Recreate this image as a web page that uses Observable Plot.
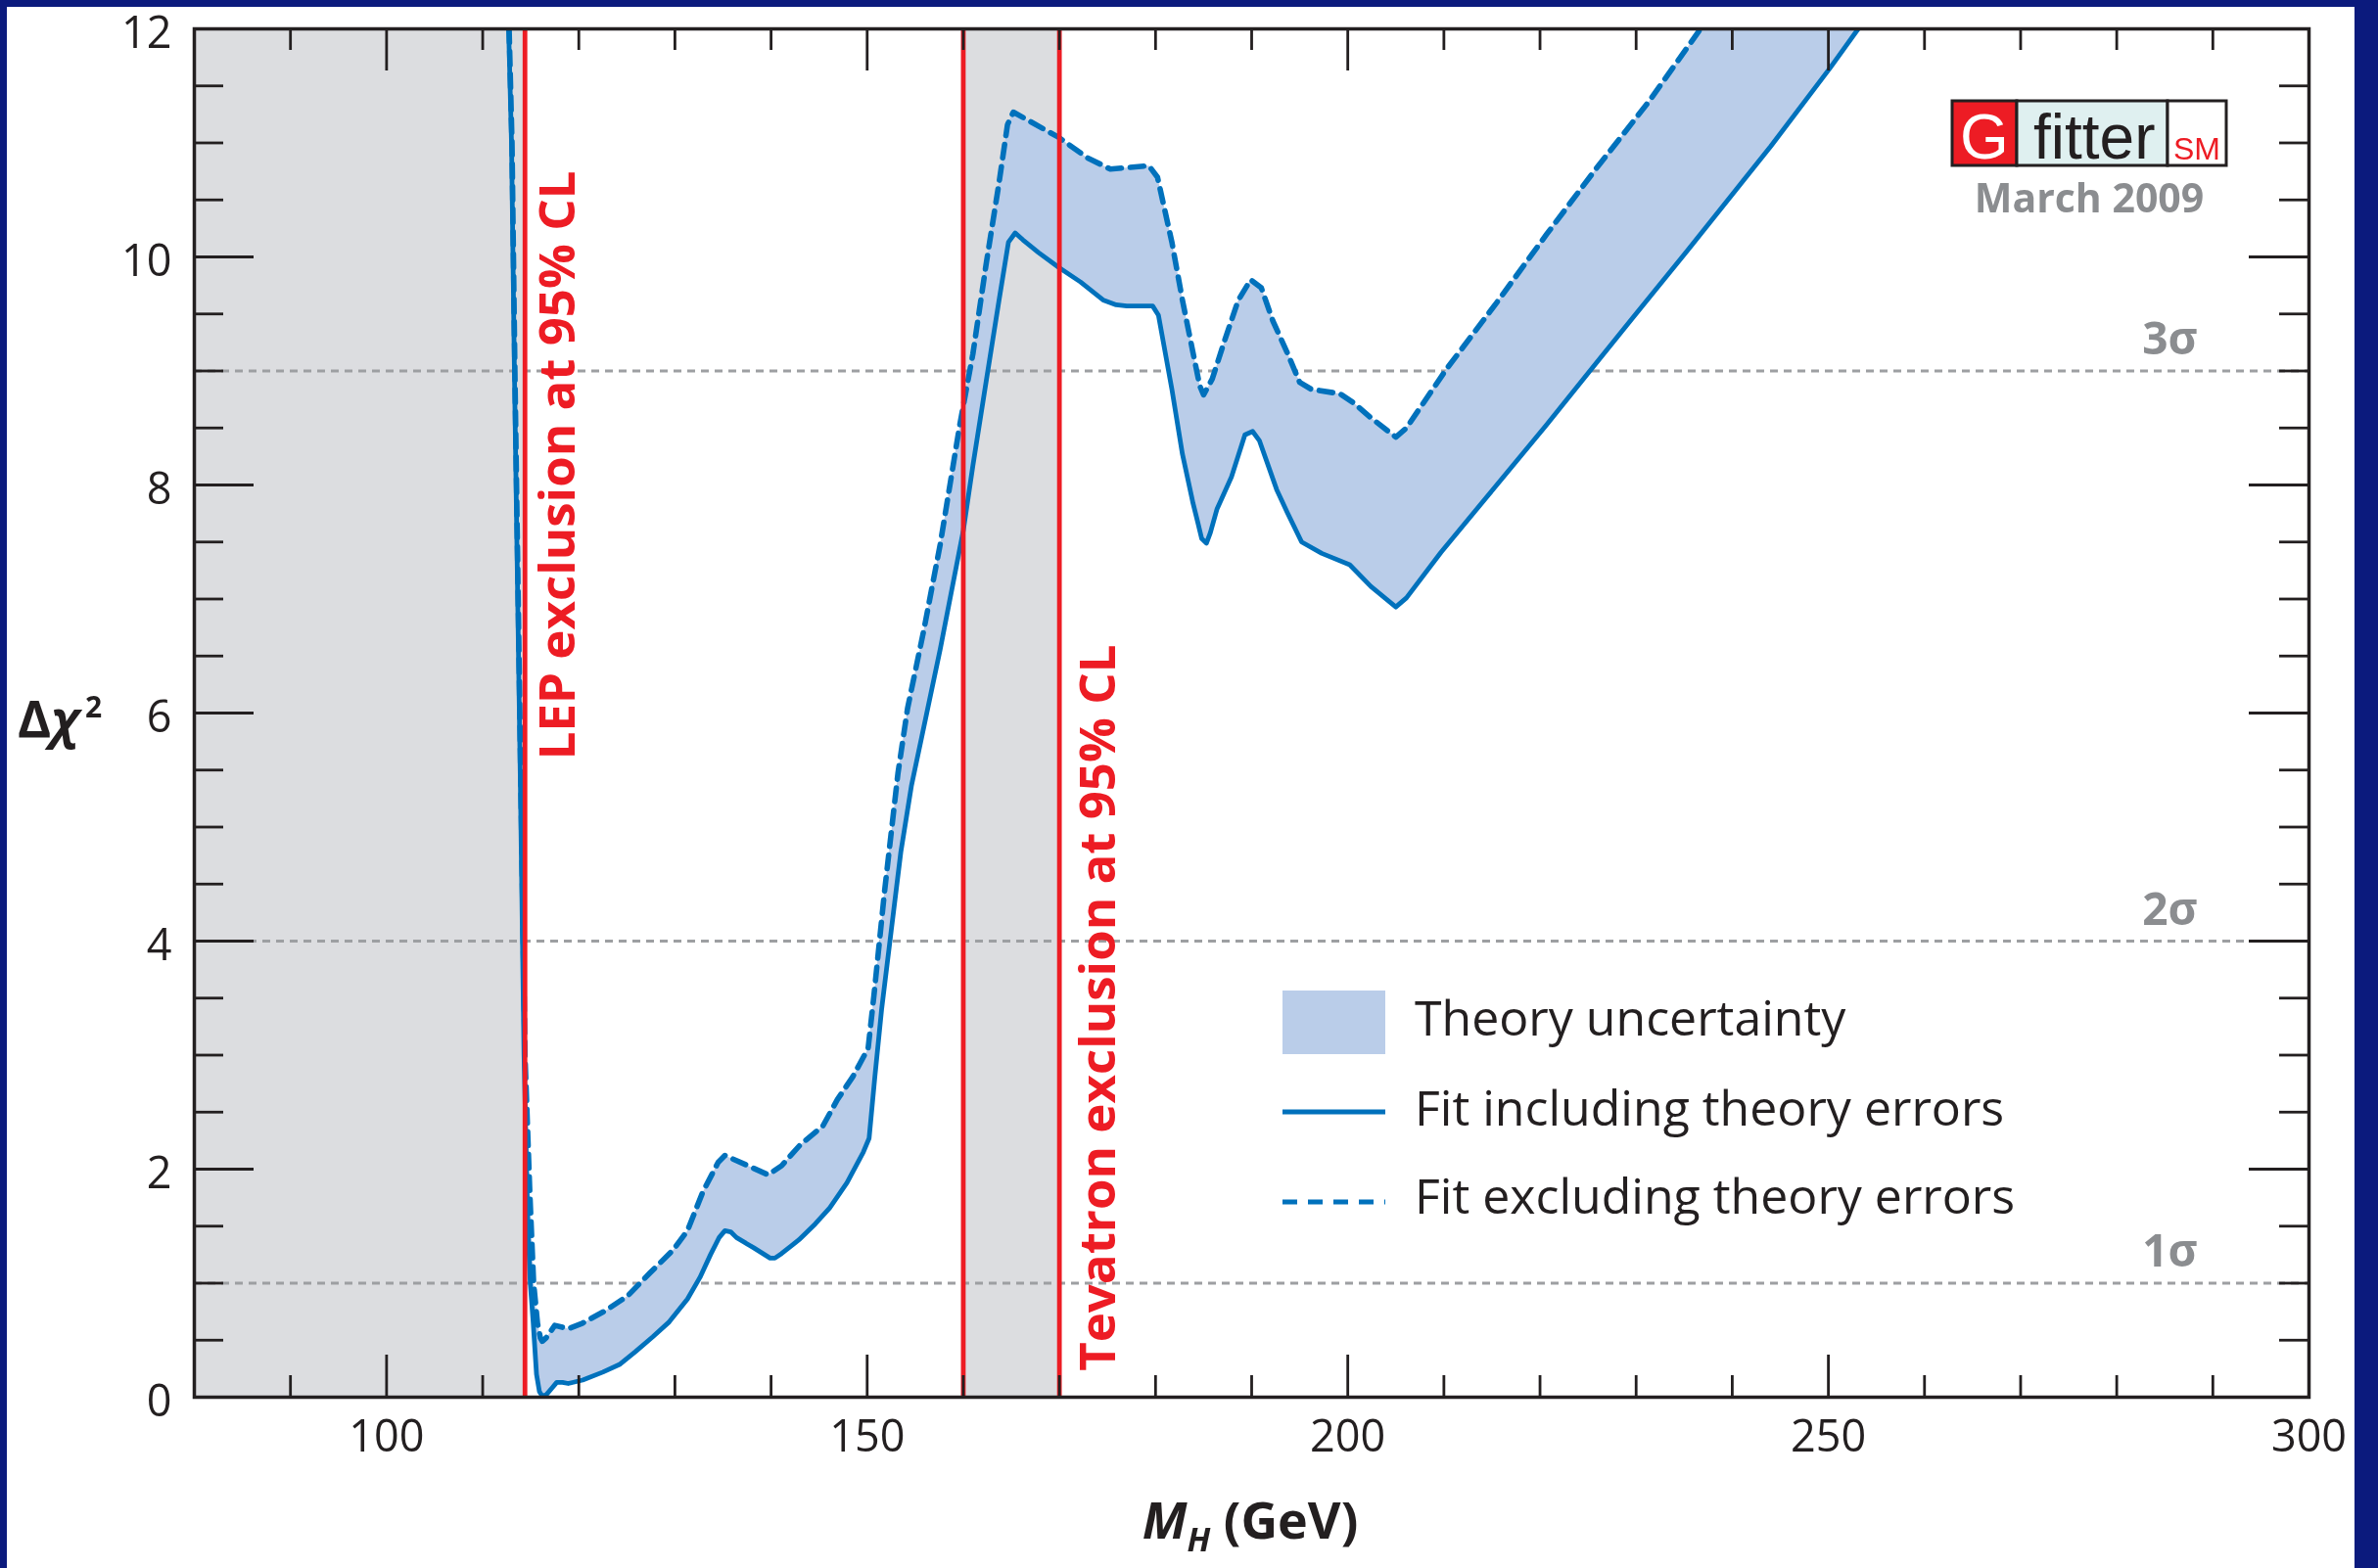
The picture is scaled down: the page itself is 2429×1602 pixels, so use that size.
<!DOCTYPE html>
<html>
<head>
<meta charset="utf-8">
<script src="https://cdn.jsdelivr.net/npm/d3@7"></script>
<script src="https://cdn.jsdelivr.net/npm/@observablehq/plot@0.6"></script>
<style>
  html, body { margin: 0; padding: 0; background: #0b1a7d; }
  #page { position: relative; width: 2429px; height: 1602px; background: #0b1a7d; overflow: hidden; }
  #paper { position: absolute; left: 7px; top: 7px; width: 2398px; height: 1595px; background: #ffffff; }
  #chart { position: absolute; left: 0; top: 0; }
  #overlay { position: absolute; left: 0; top: 0; pointer-events: none; }
</style>
</head>
<body>
<div id="page">
  <div id="paper"><div id="chart"></div></div>
  <svg id="overlay" width="2429" height="1602"></svg>
</div>
<script>
// Δχ² scan of the Higgs mass, electroweak fit (Gfitter, March 2009)

// Fit including theoretical errors (solid)
const solidMass = [112.7, 113.0, 113.3, 113.9, 114.3, 114.7, 114.95, 115.25, 115.6, 115.9,
  116.2, 116.6, 117.2, 117.7, 118.3, 118.9, 120.4, 122.5, 124.3, 125.9,
  127.7, 129.4, 131.3, 132.6, 133.7, 134.6, 135.2, 135.8, 136.4, 138.2,
  139.9, 140.4, 141.1, 142.9, 144.6, 146.1, 147.9, 149.6, 150.2, 150.8,
  151.5, 152.5, 153.5, 154.6, 155.6, 157.6, 160.0, 161.0, 162.4, 163.7,
  164.7, 165.4, 166.2, 167.8, 169.9, 172.2, 174.6, 175.9, 177.0, 179.7,
  180.3, 181.7, 182.8, 183.9, 184.4, 184.8, 185.3, 185.7, 186.4, 187.9,
  189.3, 190.1, 190.8, 192.6, 193.7, 195.2, 197.3, 200.2, 202.4, 205.0,
  206.1, 209.7, 215.2, 220.6, 225.0, 229.5, 234.9, 240.4, 244.0, 250.2, 253.1];
const solidChi2 = [12.0, 11.0, 9.0, 5.5, 3.0, 1.5, 1.0, 0.66, 0.2, 0.05,
  0.01, 0.02, 0.08, 0.13, 0.13, 0.12, 0.15, 0.22, 0.29, 0.40,
  0.53, 0.66, 0.86, 1.05, 1.25, 1.40, 1.46, 1.45, 1.40, 1.31,
  1.22, 1.22, 1.26, 1.38, 1.52, 1.66, 1.88, 2.15, 2.27, 2.81,
  3.40, 4.09, 4.78, 5.36, 5.76, 6.56, 7.60, 8.17, 8.92, 9.61,
  10.13, 10.21, 10.15, 10.04, 9.91, 9.78, 9.62, 9.58, 9.57, 9.57,
  9.49, 8.84, 8.27, 7.84, 7.67, 7.53, 7.49, 7.58, 7.79, 8.07,
  8.44, 8.47, 8.39, 7.96, 7.76, 7.50, 7.40, 7.30, 7.11, 6.93,
  7.01, 7.41, 7.97, 8.52, 8.98, 9.45, 10.01, 10.59, 10.97, 11.66, 12.0];

// Fit excluding theoretical errors (dashed)
const dashedMass = [112.75, 113.05, 113.35, 113.95, 114.4, 114.9, 115.3, 115.7, 116.0, 116.2,
  116.6, 117.5, 118.9, 120.4, 122.8, 125.1, 127.4, 129.8, 131.3, 132.9,
  134.5, 135.2, 137.6, 139.7, 141.1, 143.0, 145.4, 146.9, 148.5, 150.1,
  150.7, 151.8, 153.2, 154.2, 155.9, 157.6, 159.6, 161.0, 162.4, 163.7,
  164.6, 165.2, 169.9, 172.9, 175.3, 179.3, 180.2, 181.7, 182.8, 183.9,
  184.6, 185.0, 185.9, 187.2, 188.6, 189.9, 191.0, 192.2, 193.7, 195.0,
  196.2, 199.2, 200.6, 202.4, 205.0, 206.1, 210.3, 215.5, 220.7, 225.8,
  231.3, 236.7];
const dashedChi2 = [12.0, 11.0, 9.0, 5.5, 3.0, 1.8, 1.0, 0.65, 0.52, 0.49,
  0.52, 0.63, 0.60, 0.65, 0.76, 0.89, 1.09, 1.29, 1.46, 1.80,
  2.06, 2.12, 2.03, 1.95, 2.03, 2.21, 2.38, 2.61, 2.81, 3.06,
  3.52, 4.43, 5.47, 6.04, 6.73, 7.48, 8.51, 9.15, 9.95, 10.64,
  11.16, 11.27, 11.05, 10.87, 10.77, 10.80, 10.70, 10.13, 9.62, 9.16,
  8.87, 8.79, 8.93, 9.27, 9.62, 9.80, 9.73, 9.44, 9.16, 8.90,
  8.84, 8.80, 8.72, 8.59, 8.42, 8.50, 9.02, 9.60, 10.20, 10.77,
  11.36, 12.0];

// Direct search limits (GeV)
const lepLimit = 114.4;
const tevatronRange = [160, 170];

// Significance levels
const sigmaLabels = ["1σ", "2σ", "3σ"];
const sigmaChi2 = [1, 4, 9];

// Axes
const massDomain = [80, 300];
const chi2Domain = [0, 12];
const xTickLabels = [100, 150, 200, 250, 300];
const yTickLabels = [0, 2, 4, 6, 8, 10, 12];

const legendLabels = ["Theory uncertainty", "Fit including theory errors", "Fit excluding theory errors"];

// Colours
const ink = "#231f20";
const blue = "#0071bc";
const bandFill = "#bacde9";
const exclFill = "#dcdde0";
const red = "#ed1c24";
const sigmaGray = "#9d9fa2";
const labelGray = "#8b8d90";

// Table rows
const solid = solidMass.map((m, i) => ({mass: m, chi2: solidChi2[i]}));
const dashed = dashedMass.map((m, i) => ({mass: m, chi2: dashedChi2[i]}));
const band = solid.concat(dashed.slice().reverse());
const sigmas = sigmaChi2.map((c, i) => ({chi2: c, label: sigmaLabels[i]}));
const exclusions = [
  {from: massDomain[0], to: lepLimit},
  {from: tevatronRange[0], to: tevatronRange[1]}
];

// Frame geometry
const W = 2398, H = 1595;
const mL = 191, mR = 47, mT = 22, mB = 175;
const innerW = W - mL - mR, innerH = H - mT - mB;

const xMinor = d3.range(90, 300, 10).filter(v => v % 50 !== 0);
const xMajor = d3.range(100, 300, 50);
const yMinor = d3.range(0.5, 12, 0.5).filter(v => v % 2 !== 0);
const yMajor = d3.range(2, 12, 2);
const tickStyle = {stroke: ink, strokeWidth: 2.8};

const chart = Plot.plot({
  width: W,
  height: H,
  marginLeft: mL,
  marginRight: mR,
  marginTop: mT,
  marginBottom: mB,
  style: {fontFamily: "'Open Sans', sans-serif", color: ink, background: "transparent", overflow: "visible"},
  x: {domain: massDomain},
  y: {domain: chi2Domain},
  marks: [
    // excluded mass ranges
    Plot.rect(exclusions, {x1: "from", x2: "to", fill: exclFill}),
    // 1σ, 2σ, 3σ levels
    Plot.ruleY(sigmas, {y: "chi2", stroke: sigmaGray, strokeWidth: 3, strokeDasharray: "8,6"}),
    // theory uncertainty band between the two fits
    Plot.line(band, {x: "mass", y: "chi2", fill: bandFill, stroke: "none", mixBlendMode: "multiply", clip: true}),
    Plot.line(solid, {x: "mass", y: "chi2", stroke: blue, strokeWidth: 4.8, strokeLinejoin: "round", clip: true}),
    Plot.line(dashed, {x: "mass", y: "chi2", stroke: blue, strokeWidth: 5.6, strokeDasharray: "14,9", clip: true}),
    // direct search limits
    Plot.ruleX([lepLimit, ...tevatronRange], {x: d => d, stroke: red, strokeWidth: 4.8}),
    Plot.text([lepLimit], {x: d => d, text: () => "LEP exclusion at 95% CL", frameAnchor: "top",
      rotate: -90, textAnchor: "end", lineAnchor: "top", dx: 15, dy: 145,
      fill: red, fontWeight: "bold", fontSize: 51}),
    Plot.text([tevatronRange[1]], {x: d => d, text: () => "Tevatron exclusion at 95% CL", frameAnchor: "top",
      rotate: -90, textAnchor: "end", lineAnchor: "top", dx: 21, dy: 629,
      fill: red, fontWeight: "bold", fontSize: 51}),
    // significance labels
    Plot.text(sigmas, {y: "chi2", text: "label", frameAnchor: "right", textAnchor: "end", lineAnchor: "bottom",
      dx: -114, dy: -17, fill: labelGray, fontWeight: "bold", fontSize: 46}),
    // inward ticks on all four sides
    Plot.tickX(xMinor, {x: d => d, insetTop: innerH - 22, ...tickStyle}),
    Plot.tickX(xMajor, {x: d => d, insetTop: innerH - 43, ...tickStyle}),
    Plot.tickX(xMinor, {x: d => d, insetBottom: innerH - 22, ...tickStyle}),
    Plot.tickX(xMajor, {x: d => d, insetBottom: innerH - 43, ...tickStyle}),
    Plot.tickY(yMinor, {y: d => d, insetRight: innerW - 30, ...tickStyle}),
    Plot.tickY(yMajor, {y: d => d, insetRight: innerW - 61, ...tickStyle}),
    Plot.tickY(yMinor, {y: d => d, insetLeft: innerW - 30, ...tickStyle}),
    Plot.tickY(yMajor, {y: d => d, insetLeft: innerW - 61, ...tickStyle}),
    Plot.frame({stroke: ink, strokeWidth: 3.5}),
    Plot.axisX({ticks: xTickLabels, tickSize: 0, tickPadding: 24, fontSize: 45, label: null}),
    Plot.axisY({ticks: yTickLabels, tickSize: 0, tickPadding: 23, fontSize: 45, dy: 5, label: null})
  ]
});
document.getElementById("chart").appendChild(chart);

// Legend, logo and axis titles
const ov = d3.select("#overlay");
const textFont = "'Open Sans', sans-serif";

const lg = ov.append("g").attr("font-family", textFont).attr("font-size", 50).attr("fill", ink);
lg.append("rect").attr("x", 1310).attr("y", 1012).attr("width", 105).attr("height", 65).attr("fill", bandFill);
lg.append("line").attr("x1", 1310).attr("x2", 1415).attr("y1", 1136).attr("y2", 1136)
  .attr("stroke", blue).attr("stroke-width", 5);
lg.append("line").attr("x1", 1310).attr("x2", 1415).attr("y1", 1228).attr("y2", 1228)
  .attr("stroke", blue).attr("stroke-width", 5).attr("stroke-dasharray", "15,11");
[1058, 1150, 1240].forEach((y, i) => {
  lg.append("text").attr("x", 1445).attr("y", y).text(legendLabels[i]);
});

// Gfitter logo
const logo = ov.append("g").attr("font-family", "'Liberation Sans', Arial, sans-serif");
logo.append("rect").attr("x", 1994).attr("y", 103).attr("width", 66).attr("height", 66)
  .attr("fill", red).attr("stroke", ink).attr("stroke-width", 3);
logo.append("rect").attr("x", 2060).attr("y", 103).attr("width", 154).attr("height", 66)
  .attr("fill", "#dff0f0").attr("stroke", ink).attr("stroke-width", 3);
logo.append("rect").attr("x", 2214).attr("y", 103).attr("width", 60).attr("height", 66)
  .attr("fill", "#ffffff").attr("stroke", ink).attr("stroke-width", 3);
logo.append("text").attr("x", 2027).attr("y", 162).attr("text-anchor", "middle")
  .attr("font-size", 64).attr("fill", "#ffffff").text("G");
logo.append("text").attr("x", 2077).attr("y", 162)
  .attr("font-size", 64).attr("fill", ink).text("fitter");
logo.append("text").attr("x", 2244).attr("y", 163).attr("text-anchor", "middle")
  .attr("font-size", 32).attr("fill", red).text("SM");
ov.append("text").attr("x", 2134).attr("y", 217).attr("text-anchor", "middle")
  .attr("font-family", textFont).attr("font-weight", "bold").attr("font-size", 41)
  .attr("fill", labelGray).text("March 2009");

// y-axis title: Δχ²
const yt = ov.append("text").attr("x", 18).attr("y", 753)
  .attr("font-family", textFont).attr("font-weight", "bold").attr("font-size", 52).attr("fill", ink);
yt.append("tspan").text("Δ");
yt.append("tspan").attr("font-style", "italic").text("χ");
yt.append("tspan").attr("font-size", 30).attr("dx", 6).attr("dy", -20).text("2");

// x-axis title: M_H (GeV)
const xt = ov.append("text").attr("x", 1277).attr("y", 1572).attr("text-anchor", "middle")
  .attr("font-family", textFont).attr("font-weight", "bold").attr("font-size", 52).attr("fill", ink);
xt.append("tspan").attr("font-style", "italic").text("M");
xt.append("tspan").attr("font-style", "italic").attr("font-size", 34).attr("dy", 13).text("H");
xt.append("tspan").attr("dy", -13).text(" (GeV)");
</script>
</body>
</html>
